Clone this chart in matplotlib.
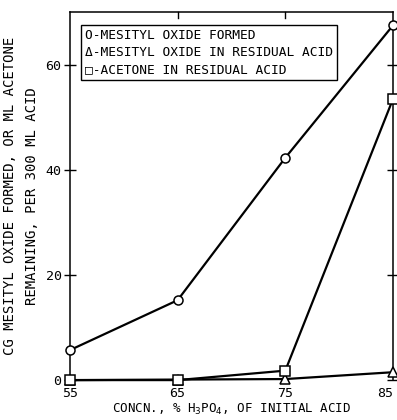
import matplotlib
matplotlib.use("Agg")
import matplotlib.pyplot as plt

conc = [55, 65, 75, 85]
mesityl_formed = [5.7, 15.2, 42.3, 67.5]
mesityl_residual = [0.0, 0.1, 0.2, 1.5]
acetone_residual = [0.0, 0.0, 1.8, 53.5]

legend_lines = ["O-MESITYL OXIDE FORMED",
                "\u0394-MESITYL OXIDE IN RESIDUAL ACID",
                "\u25a1-ACETONE IN RESIDUAL ACID"]

plt.rcParams['font.family'] = ['DejaVu Sans Mono', 'DejaVu Sans']

fig = plt.figure(figsize=(3.97, 4.2), dpi=100)
ax = fig.add_axes([0.176, 0.095, 0.814, 0.876])

style = dict(color='black', lw=1.6, mfc='white', mec='black', mew=1.1, ms=6.5)
ax.plot(conc, mesityl_residual, marker='^', clip_on=False, zorder=3, **style)
ax.plot(conc, acetone_residual, marker='s', clip_on=False, zorder=3, **style)
ax.plot(conc, mesityl_formed, marker='o', clip_on=False, zorder=4, **style)

ax.set_xlim(55, 85)
ax.set_ylim(0, 70)
ax.set_xticks(conc)
ax.set_yticks([0, 20, 40, 60])
ax.spines['bottom'].set_visible(False)
for s in ['left', 'right', 'top']:
    ax.spines[s].set_linewidth(1.1)
ax.tick_params(axis='y', direction='inout', length=8, width=1.0, labelsize=9.5,
               right=True, pad=2)
ax.tick_params(axis='x', length=0, labelsize=9.5, pad=5)
ax.get_xticklabels()[-1].set_horizontalalignment('right')
for x in [65, 75]:
    ax.plot([x, x], [70, 68.8], color='black', lw=1.0, clip_on=False)

ax.text(0.046, 0.955, "\n".join(legend_lines), transform=ax.transAxes,
        fontsize=9.3, va='top', ha='left', linespacing=1.4,
        bbox=dict(boxstyle='square,pad=0.3', fc='white', ec='black', lw=1.0))

ax.set_xlabel("CONCN., % H$_3$PO$_4$, OF INITIAL ACID", fontsize=9, labelpad=1)
ax.set_ylabel("CG MESITYL OXIDE FORMED, OR ML ACETONE\nREMAINING, PER 300 ML ACID",
              fontsize=10, labelpad=5, linespacing=1.65)

fig.savefig("out.png", dpi=100)
